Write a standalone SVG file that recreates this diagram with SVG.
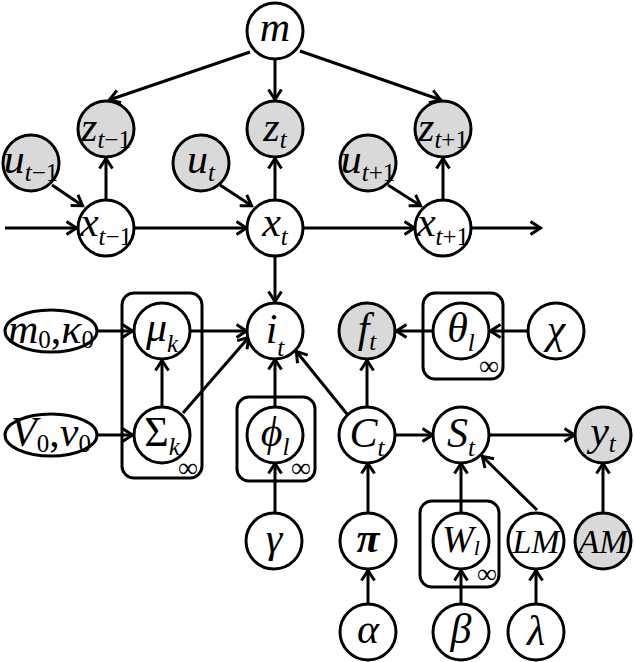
<svg xmlns="http://www.w3.org/2000/svg" width="634" height="662" viewBox="0 0 634 662">
<style>
.n{fill:#fff;stroke:#000;stroke-width:3}
.o{fill:#d9d9d9;stroke:#000;stroke-width:3}
.p{fill:none;stroke:#000;stroke-width:3}
.e line{stroke:#000;stroke-width:3;marker-end:url(#ah)}
text{font-family:"Liberation Serif","Times New Roman",serif;font-style:italic;font-size:42px;text-anchor:middle;fill:#000}
.s{font-size:25px}
.u{font-style:normal}
.inf{font-style:normal;font-size:28px;text-anchor:middle}
</style>
<defs>
<marker id="ah" markerUnits="userSpaceOnUse" markerWidth="14" markerHeight="16" viewBox="0 0 14 16" refX="11.5" refY="8" orient="auto">
<path d="M1,1.5 L11,8 L1,14.5" fill="none" stroke="#000" stroke-width="3"/>
</marker>
</defs>
<g id="plates">
<rect class="p" x="122" y="293" width="80" height="185" rx="12"/>
<rect class="p" x="237" y="397" width="78" height="84" rx="12"/>
<rect class="p" x="423" y="293" width="80" height="86" rx="12"/>
<rect class="p" x="420" y="501" width="79" height="86" rx="12"/>
<text class="inf" x="188" y="477">∞</text>
<text class="inf" x="301" y="477">∞</text>
<text class="inf" x="489" y="375">∞</text>
<text class="inf" x="487" y="583">∞</text>
</g>
<g id="connectors" class="e">
<line x1="250" y1="52" x2="109" y2="100"/>
<line x1="275" y1="59" x2="275" y2="100"/>
<line x1="300" y1="51" x2="441" y2="100"/>
<line x1="106" y1="199" x2="106" y2="158"/>
<line x1="275" y1="199" x2="275" y2="158"/>
<line x1="443" y1="199" x2="443" y2="158"/>
<line x1="52" y1="185" x2="83" y2="206"/>
<line x1="220" y1="185" x2="252" y2="206"/>
<line x1="388" y1="185" x2="421" y2="206"/>
<line x1="5" y1="228" x2="77" y2="228"/>
<line x1="134" y1="228" x2="247" y2="228"/>
<line x1="303" y1="228" x2="415" y2="228"/>
<line x1="471" y1="228" x2="541" y2="228"/>
<line x1="275" y1="256" x2="275" y2="302"/>
<line x1="97" y1="331" x2="133" y2="331"/>
<line x1="97" y1="435" x2="133" y2="435"/>
<line x1="162" y1="406" x2="162" y2="360"/>
<line x1="190" y1="331" x2="247" y2="331"/>
<line x1="183" y1="413" x2="249" y2="337"/>
<line x1="275" y1="407" x2="275" y2="359"/>
<line x1="275" y1="513" x2="275" y2="463"/>
<line x1="347" y1="414" x2="296" y2="351"/>
<line x1="367" y1="407" x2="367" y2="360"/>
<line x1="433" y1="331" x2="396" y2="331"/>
<line x1="528" y1="331" x2="490" y2="331"/>
<line x1="395" y1="435" x2="433" y2="435"/>
<line x1="490" y1="435" x2="575" y2="435"/>
<line x1="368" y1="513" x2="368" y2="463"/>
<line x1="368" y1="604" x2="368" y2="570"/>
<line x1="461" y1="513" x2="461" y2="463"/>
<line x1="461" y1="604" x2="461" y2="570"/>
<line x1="537" y1="510" x2="482" y2="456"/>
<line x1="536" y1="604" x2="536" y2="570"/>
<line x1="603" y1="513" x2="603" y2="463"/>
</g>
<g id="m"><circle class="n" cx="275" cy="31" r="28"/><text x="275" y="41">m</text></g>
<g id="z_tm1"><circle class="o" cx="106" cy="129" r="28"/><text x="106" y="141">z<tspan class="s" dy="7">t</tspan><tspan class="s u">−1</tspan></text></g>
<g id="z_t"><circle class="o" cx="275" cy="129" r="28"/><text x="275" y="141">z<tspan class="s" dy="7">t</tspan></text></g>
<g id="z_tp1"><circle class="o" cx="443" cy="129" r="28"/><text x="443" y="141">z<tspan class="s" dy="7">t</tspan><tspan class="s u">+1</tspan></text></g>
<g id="u_tm1"><circle class="o" cx="31" cy="163" r="28"/><text x="31" y="173">u<tspan class="s" dy="8">t</tspan><tspan class="s u">−1</tspan></text></g>
<g id="u_t"><circle class="o" cx="201" cy="163" r="28"/><text x="201" y="173">u<tspan class="s" dy="8">t</tspan></text></g>
<g id="u_tp1"><circle class="o" cx="368" cy="163" r="28"/><text x="368" y="173">u<tspan class="s" dy="8">t</tspan><tspan class="s u">+1</tspan></text></g>
<g id="x_tm1"><circle class="n" cx="106" cy="228" r="28"/><text x="106" y="236">x<tspan class="s" dy="9">t</tspan><tspan class="s u">−1</tspan></text></g>
<g id="x_t"><circle class="n" cx="275" cy="228" r="28"/><text x="275" y="236">x<tspan class="s" dy="9">t</tspan></text></g>
<g id="x_tp1"><circle class="n" cx="443" cy="228" r="28"/><text x="443" y="236">x<tspan class="s" dy="9">t</tspan><tspan class="s u">+1</tspan></text></g>
<g id="m0k0"><ellipse class="n" cx="51" cy="331" rx="46" ry="21"/><text x="51" y="343">m<tspan class="s u" dy="5">0</tspan><tspan class="u" dy="-5">,</tspan>κ<tspan class="s u" dy="5">0</tspan></text></g>
<g id="V0n0"><ellipse class="n" cx="51" cy="435" rx="46" ry="21"/><text x="51" y="446">V<tspan class="s u" dy="6">0</tspan><tspan class="u" dy="-6">,</tspan>ν<tspan class="s u" dy="6">0</tspan></text></g>
<g id="mu_k"><circle class="n" cx="162" cy="331" r="28"/><text x="162" y="341">μ<tspan class="s" dy="11">k</tspan></text></g>
<g id="Sigma_k"><circle class="n" cx="162" cy="435" r="28"/><text x="162" y="446"><tspan class="u">Σ</tspan><tspan class="s" dy="9">k</tspan></text></g>
<g id="i_t"><circle class="n" cx="275" cy="331" r="28"/><text x="275" y="343">i<tspan class="s" dy="13">t</tspan></text></g>
<g id="phi_l"><circle class="n" cx="275" cy="435" r="28"/><text x="275" y="446">ϕ<tspan class="s" dy="9">l</tspan></text></g>
<g id="f_t"><circle class="o" cx="367" cy="331" r="28"/><text x="367" y="342">f<tspan class="s" dy="8">t</tspan></text></g>
<g id="theta_l"><circle class="n" cx="461" cy="331" r="28"/><text x="461" y="342">θ<tspan class="s" dy="9">l</tspan></text></g>
<g id="chi"><circle class="n" cx="556" cy="331" r="28"/><text x="556" y="343">χ</text></g>
<g id="C_t"><circle class="n" cx="367" cy="435" r="28"/><text x="367" y="447">C<tspan class="s" dy="9">t</tspan></text></g>
<g id="S_t"><circle class="n" cx="461" cy="435" r="28"/><text x="461" y="447">S<tspan class="s" dy="9">t</tspan></text></g>
<g id="y_t"><circle class="o" cx="603" cy="435" r="28"/><text x="603" y="445">y<tspan class="s" dy="7">t</tspan></text></g>
<g id="gamma"><circle class="n" cx="274" cy="541" r="28"/><text x="274" y="552">γ</text></g>
<g id="pi"><circle class="n" cx="368" cy="541" r="28"/><text x="368" y="552" font-weight="bold">π</text></g>
<g id="W_l"><circle class="n" cx="461" cy="541" r="28"/><text x="461" y="552" style="font-size:38px">W<tspan class="s" style="font-size:22px" dy="3">l</tspan></text></g>
<g id="LM"><circle class="n" cx="536" cy="541" r="28"/><text x="536" y="553" style="font-size:34px">LM</text></g>
<g id="AM"><circle class="o" cx="603" cy="541" r="28"/><text x="603" y="553" style="font-size:34px">AM</text></g>
<g id="alpha"><circle class="n" cx="368" cy="632" r="28"/><text x="368" y="643">α</text></g>
<g id="beta"><circle class="n" cx="461" cy="632" r="28"/><text x="461" y="643">β</text></g>
<g id="lambda"><circle class="n" cx="536" cy="632" r="28"/><text x="536" y="645">λ</text></g>
</svg>
